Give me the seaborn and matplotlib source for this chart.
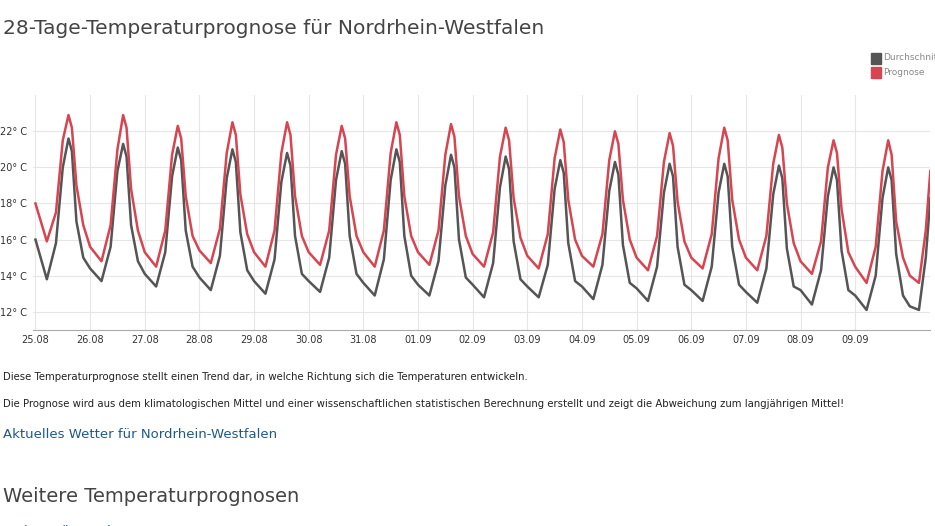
import numpy as np
import pandas as pd
import matplotlib
matplotlib.use("Agg")
import matplotlib.pyplot as plt
import seaborn as sns

days = ["25.08","26.08","27.08","28.08","29.08","30.08","31.08","01.09","02.09","03.09","04.09","05.09","06.09","07.09","08.09","09.09"]
hours = [0, 5, 9, 12, 14.5, 18, 21]
after_peak_hour = 16
last_hours = [0, 4, 7, 9]

prognose = [
    [18.0, 15.9, 17.5, 21.5, 22.9, 19.0, 16.8],
    [15.6, 14.8, 16.8, 21.0, 22.9, 18.8, 16.5],
    [15.3, 14.5, 16.5, 20.7, 22.3, 18.4, 16.2],
    [15.4, 14.7, 16.6, 20.8, 22.5, 18.5, 16.3],
    [15.3, 14.5, 16.5, 20.8, 22.5, 18.4, 16.2],
    [15.3, 14.6, 16.5, 20.7, 22.3, 18.4, 16.2],
    [15.3, 14.5, 16.5, 20.8, 22.5, 18.4, 16.2],
    [15.3, 14.6, 16.5, 20.7, 22.4, 18.4, 16.2],
    [15.2, 14.5, 16.4, 20.6, 22.2, 18.3, 16.1],
    [15.1, 14.4, 16.3, 20.5, 22.1, 18.2, 16.0],
    [15.1, 14.5, 16.3, 20.4, 22.0, 18.2, 16.0],
    [15.0, 14.3, 16.2, 20.3, 21.9, 18.1, 15.9],
    [15.0, 14.4, 16.3, 20.5, 22.2, 18.2, 16.0],
    [15.0, 14.3, 16.2, 20.2, 21.8, 18.0, 15.8],
    [14.8, 14.1, 15.9, 20.0, 21.5, 17.7, 15.3],
    [14.5, 13.6, 15.6, 19.8, 21.5, 17.0, 15.0],
]
prognose_after_peak = [22.2, 22.2, 21.6, 21.8, 21.8, 21.6, 21.8, 21.7, 21.5, 21.4, 21.3, 21.2, 21.5, 21.1, 20.8, 20.7]
prognose_last = [14.0, 13.6, 16.5, 19.8]

durchschnitt = [
    [16.0, 13.8, 15.8, 20.0, 21.6, 17.0, 15.0],
    [14.4, 13.7, 15.6, 19.8, 21.3, 16.8, 14.8],
    [14.1, 13.4, 15.3, 19.5, 21.1, 16.5, 14.5],
    [13.9, 13.2, 15.1, 19.4, 21.0, 16.4, 14.3],
    [13.7, 13.0, 14.9, 19.2, 20.8, 16.2, 14.1],
    [13.7, 13.1, 15.0, 19.3, 20.9, 16.2, 14.1],
    [13.6, 12.9, 14.9, 19.3, 21.0, 16.2, 14.0],
    [13.5, 12.9, 14.8, 19.0, 20.7, 16.0, 13.9],
    [13.5, 12.8, 14.7, 18.9, 20.6, 15.9, 13.8],
    [13.4, 12.8, 14.6, 18.8, 20.4, 15.8, 13.7],
    [13.4, 12.7, 14.6, 18.7, 20.3, 15.7, 13.6],
    [13.3, 12.6, 14.5, 18.6, 20.2, 15.6, 13.5],
    [13.2, 12.6, 14.5, 18.6, 20.2, 15.6, 13.5],
    [13.1, 12.5, 14.4, 18.5, 20.1, 15.5, 13.4],
    [13.2, 12.4, 14.3, 18.4, 20.0, 15.4, 13.2],
    [12.9, 12.1, 14.0, 18.3, 20.0, 15.2, 12.9],
]
durchschnitt_after_peak = [20.9, 20.6, 20.4, 20.3, 20.1, 20.2, 20.3, 20.0, 19.9, 19.7, 19.6, 19.5, 19.5, 19.4, 19.3, 19.3]
durchschnitt_last = [12.3, 12.1, 15.0, 18.3]

yticks = [12, 14, 16, 18, 20, 22]

rows = []
for name, data, ap, last in [("Durchschnitt", durchschnitt, durchschnitt_after_peak, durchschnitt_last),
                             ("Prognose", prognose, prognose_after_peak, prognose_last)]:
    for d, vals in enumerate(data):
        for h, v in zip(hours, vals):
            rows.append((name, d + h / 24, v))
        rows.append((name, d + after_peak_hour / 24, ap[d]))
    for h, v in zip(last_hours, last):
        rows.append((name, len(data) + h / 24, v))
df = pd.DataFrame(rows, columns=["Serie", "t", "temp"]).sort_values(["Serie", "t"])

fig = plt.figure(figsize=(9.35, 5.26), dpi=100)
ax = fig.add_axes([0.035, 0.373, 0.96, 0.446])
sns.lineplot(data=df, x="t", y="temp", hue="Serie", sort=True,
             palette={"Durchschnitt": "#555555", "Prognose": "#d64550"},
             linewidth=1.8, ax=ax, legend=False)
ax.set_xlim(-0.05, df["t"].max())
ax.set_ylim(11.0, 24.0)
ax.set_xticks(range(len(days)))
ax.set_xticklabels(days, fontsize=7, color="#333")
ax.set_yticks(yticks)
ax.set_yticklabels([f"{v}° C" for v in yticks], fontsize=7, color="#333")
ax.set_xlabel(""); ax.set_ylabel("")
ax.grid(True, color="#e6e6e6", linewidth=0.8)
ax.tick_params(length=0, pad=4)
for s in ["top", "right", "left"]:
    ax.spines[s].set_visible(False)
ax.spines["bottom"].set_color("#aaaaaa")

fig.text(0.003, 0.945, "28-Tage-Temperaturprognose für Nordrhein-Westfalen",
         fontsize=14.5, color="#444", va="center")
for i, (lab, col) in enumerate([("Durchschnitt", "#555555"), ("Prognose", "#d64550")]):
    y = 1 - (58 + 14 * i) / 526
    fig.patches.append(plt.Rectangle((871 / 935, y - 0.011), 10 / 935, 0.021,
                                     transform=fig.transFigure, color=col))
    fig.text(883 / 935, y, lab, fontsize=6.5, color="#888", va="center")

fig.text(0.003, 1 - 377 / 526,
         "Diese Temperaturprognose stellt einen Trend dar, in welche Richtung sich die Temperaturen entwickeln.",
         fontsize=7.3, color="#222", va="center")
fig.text(0.003, 1 - 404 / 526,
         "Die Prognose wird aus dem klimatologischen Mittel und einer wissenschaftlichen statistischen Berechnung erstellt und zeigt die Abweichung zum langjährigen Mittel!",
         fontsize=7.3, color="#222", va="center")
fig.text(0.003, 1 - 434 / 526, "Aktuelles Wetter für Nordrhein-Westfalen",
         fontsize=9.5, color="#1d5a8c", va="center")
fig.text(0.003, 1 - 497 / 526, "Weitere Temperaturprognosen",
         fontsize=14, color="#444", va="center")
fig.text(0.003, 1 - 531 / 526, "Baden-Württemberg",
         fontsize=9.5, color="#1d5a8c", va="center")

fig.savefig("out.png", dpi=100)
